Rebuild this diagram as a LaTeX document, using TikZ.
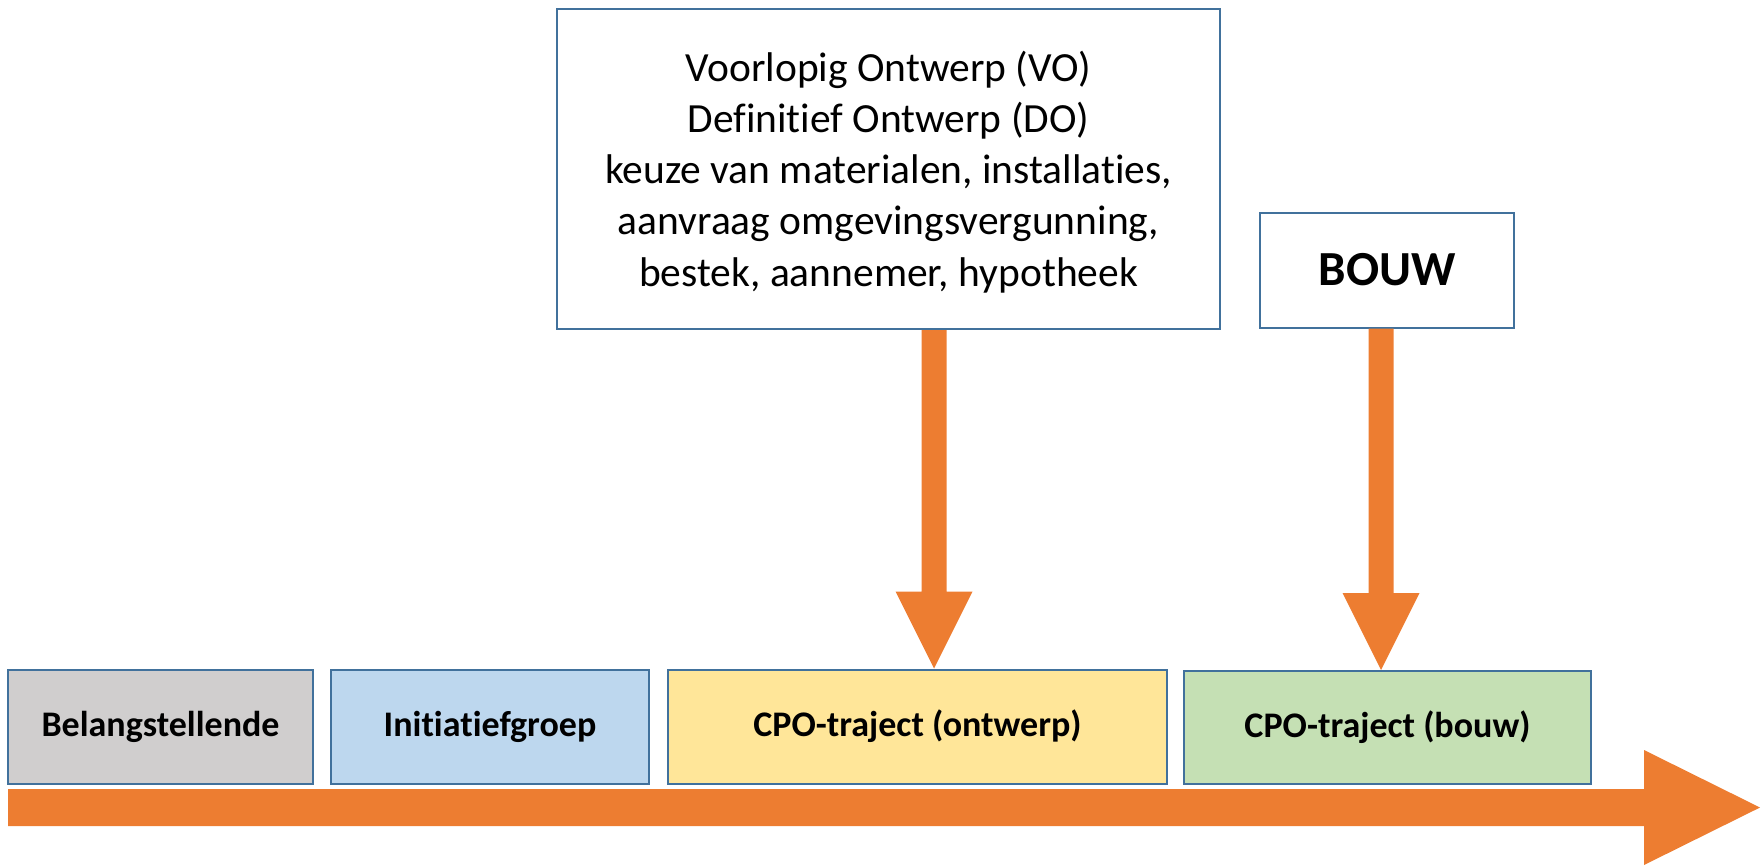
\documentclass[tikz,border=0pt]{standalone}
\usepackage{fontspec}
\setmainfont{Carlito}[RawFeature={-liga}]
\usetikzlibrary{calc}
\definecolor{orng}{HTML}{ED7D31}
\definecolor{bline}{HTML}{41719C}
\definecolor{fgray}{HTML}{D0CECE}
\definecolor{fblue}{HTML}{BDD7EE}
\definecolor{fyellow}{HTML}{FFE699}
\definecolor{fgreen}{HTML}{C5E0B4}
\newcommand\vArrowShape[2]{%
  \fill[orng] let \p1=(#1), \p2=(#2) in
    (\x1-12.5pt,\y1) -- (\x1+12.5pt,\y1) -- (\x1+12.5pt,\y2+77pt) -- (\x1+38.5pt,\y2+77pt)
    -- (\x2,\y2) -- (\x1-38.5pt,\y2+77pt) -- (\x1-12.5pt,\y2+77pt) -- cycle;}
\begin{document}
\begin{tikzpicture}[x=1pt,y=-1pt,
  phase/.style={draw=bline, line width=2pt, inner sep=0pt, minimum height=114pt,
    font=\bfseries\fontsize{36}{42}\selectfont},
  infobox/.style={draw=bline, line width=2pt, fill=white, inner sep=0pt}]
\useasboundingbox (0,0) rectangle (1763,865);
% timeline arrow
\coordinate (tl0) at (8,807.5);
\coordinate (tl1) at (1760,807.5);
\fill[orng] let \p1=(tl0), \p2=(tl1) in
  (\x1,\y1+18.5pt) -- (\x2-116pt,\y1+18.5pt) -- (\x2-116pt,\y1+57.5pt) -- (\x2,\y2)
  -- (\x2-116pt,\y1-57.5pt) -- (\x2-116pt,\y1-18.5pt) -- (\x1,\y1-18.5pt) -- cycle;
% phase boxes
\node[phase, fill=fgray, minimum width=305pt] (b1) at (160.5,727) {Belangstellende};
\node[phase, fill=fblue, minimum width=318pt] (b2) at (490,727) {Initiatiefgroep};
\node[phase, fill=fyellow, minimum width=499pt] (b3) at (917.5,726.5) {CPO-traject (ontwerp)};
\node[phase, fill=fgreen, minimum width=407pt, minimum height=113pt] (b4) at (1387.5,727.5) {CPO-traject (bouw)};
% info boxes
\node[infobox, minimum width=663pt, minimum height=320pt] (top) at (888.5,169) {};
\node[align=center, font=\fontsize{41.5}{51.1}\selectfont, inner sep=0pt] (toptext) at (888.5,172)
  {Voorlopig Ontwerp (VO)\\Definitief Ontwerp (DO)\\keuze van materialen, installaties,\\aanvraag omgevingsvergunning,\\bestek, aannemer, hypotheek};
\node[infobox, minimum width=254pt, minimum height=115pt, font=\bfseries\fontsize{49}{56}\selectfont] (bouw) at (1387,270) {BOUW};
% vertical arrows
\coordinate (x1) at (934,0);
\coordinate (x2) at (1381,0);
\vArrowShape{top.south -| x1}{b3.north -| x1}
\vArrowShape{bouw.south -| x2}{b4.north -| x2}
\end{tikzpicture}
\end{document}
